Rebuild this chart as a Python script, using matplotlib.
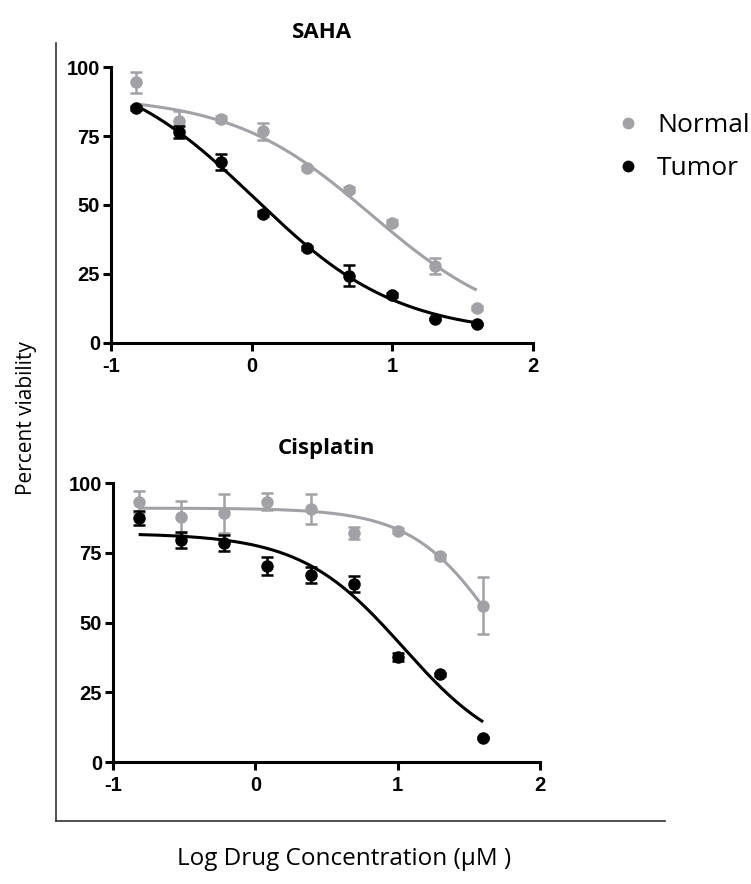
import numpy as np
import matplotlib
matplotlib.use("Agg")
import matplotlib.pyplot as plt
from matplotlib.lines import Line2D

plt.rcParams["axes.unicode_minus"] = False

# log concentrations (uM)
log_conc = [-0.82, -0.52, -0.22, 0.08, 0.39, 0.69, 1.0, 1.3, 1.6]

# SAHA
saha_normal = [94.4, 80.6, 81.2, 76.7, 63.4, 55.6, 43.6, 27.8, 12.7]
saha_normal_err = [3.9, 3.5, 1.0, 3.0, 0.8, 0.8, 0.8, 2.9, 0.8]
saha_tumor = [85.1, 76.4, 65.6, 46.9, 34.4, 24.4, 17.3, 8.7, 6.9]
saha_tumor_err = [0.8, 2.3, 3.0, 0.8, 0.8, 3.9, 0.8, 0.5, 0.5]

# Cisplatin
cis_normal = [93.1, 87.8, 89.2, 93.3, 90.7, 82.0, 82.9, 73.7, 56.0]
cis_normal_err = [3.9, 5.6, 7.0, 3.0, 5.5, 2.1, 0.8, 0.8, 10.2]
cis_tumor = [87.4, 79.6, 78.4, 70.3, 67.1, 63.7, 37.7, 31.5, 8.6]
cis_tumor_err = [2.6, 2.8, 2.8, 3.2, 2.8, 2.8, 1.5, 0.5, 0.5]

# fitted sigmoid parameters: top, bottom, logIC50, hill
saha_normal_fit = (89.5, 3.5, 0.85, 0.87)
saha_tumor_fit = (102.0, 3.0, 0.02, 0.85)
cis_normal_fit = (91.0, 0.0, 1.74, 1.4)
cis_tumor_fit = (82.0, 0.0, 1.04, 1.2)

x_ticks = [-1, 0, 1, 2]
y_ticks = [0, 25, 50, 75, 100]

GRAY = "#a2a2a6"
BLACK = "#000000"


def sigmoid(x, top, bottom, logic50, hill):
    return bottom + (top - bottom) / (1 + 10 ** ((x - logic50) * hill))


def panel(ax, title, normal, normal_err, tumor, tumor_err, nfit, tfit):
    xs = np.linspace(min(log_conc), max(log_conc), 200)
    for y, err, fit, col in [(normal, normal_err, nfit, GRAY),
                             (tumor, tumor_err, tfit, BLACK)]:
        ax.plot(xs, sigmoid(xs, *fit), color=col, lw=2.2, clip_on=False,
                solid_capstyle="butt")
        ax.errorbar(log_conc, y, yerr=err, fmt="none", ecolor=col,
                    elinewidth=1.8, capsize=4.5, capthick=1.8, clip_on=False)
        ax.plot(log_conc, y, "o", color=col, ms=8, clip_on=False)
    ax.set_xlim(-1, 2)
    ax.set_ylim(0, 100)
    ax.set_xticks(x_ticks)
    ax.set_yticks(y_ticks)
    ax.spines[["top", "right"]].set_visible(False)
    for s in ["left", "bottom"]:
        ax.spines[s].set_linewidth(2.2)
    ax.tick_params(width=2.2, length=6, labelsize=14.5, pad=2)
    ax.tick_params(axis="x", pad=4)
    for lab in ax.get_xticklabels() + ax.get_yticklabels():
        lab.set_fontfamily("Liberation Sans")
        lab.set_fontweight("bold")
    ax.set_title(title, family="Open Sans", fontweight="bold",
                 fontsize=16, pad=21)


fig = plt.figure(figsize=(7.51, 8.84), dpi=100)
ax1 = fig.add_axes([0.1478, 0.6120, 0.5619, 0.3122])
ax2 = fig.add_axes([0.1505, 0.1380, 0.5686, 0.3156])

panel(ax1, "SAHA", saha_normal, saha_normal_err, saha_tumor, saha_tumor_err,
      saha_normal_fit, saha_tumor_fit)
panel(ax2, "Cisplatin", cis_normal, cis_normal_err, cis_tumor, cis_tumor_err,
      cis_normal_fit, cis_tumor_fit)

# outer frame lines
fig.add_artist(Line2D([0.0746, 0.0746], [0.9514, 0.0713], color="#333333",
                      lw=1.2, transform=fig.transFigure))
fig.add_artist(Line2D([0.0746, 0.8855], [0.0713, 0.0713], color="#333333",
                      lw=1.2, transform=fig.transFigure))

fig.text(0.458, 0.028, "Log Drug Concentration (\u03bcM )", family="Open Sans",
         fontsize=17.5, ha="center", va="center")
fig.text(0.035, 0.527, "Percent viability", family="Open Sans", fontsize=15,
         rotation=90, ha="center", va="center")

handles = [Line2D([], [], ls="none", marker="o", color=GRAY, ms=7.5),
           Line2D([], [], ls="none", marker="o", color=BLACK, ms=7.5)]
fig.legend(handles, ["Normal", "Tumor"], loc="upper left",
           bbox_to_anchor=(615 / 751, 1 - 113 / 884), frameon=False,
           prop={"family": "Open Sans", "size": 19}, handlelength=1.0,
           handletextpad=0.6, borderpad=0, borderaxespad=0, labelspacing=0.68)

fig.savefig("out.png", dpi=100)
